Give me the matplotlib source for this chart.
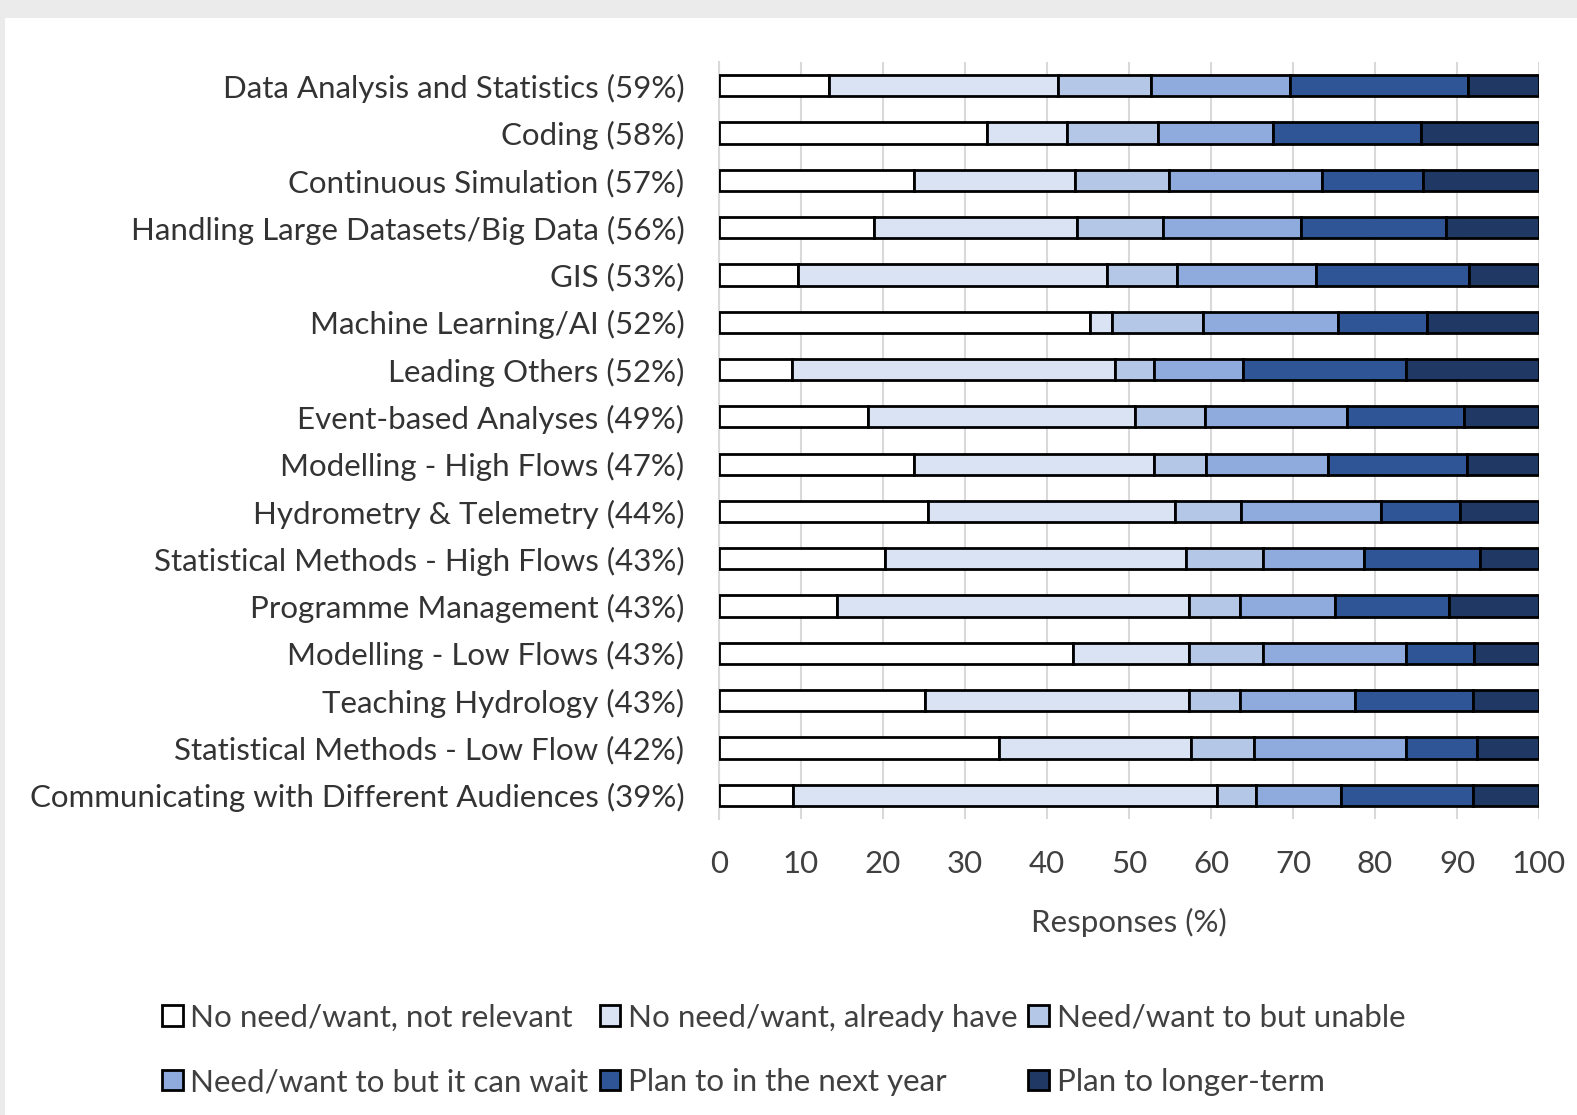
import matplotlib.pyplot as plt
from matplotlib.patches import Rectangle
import numpy as np

# Skills survey - stacked horizontal bars (%)

skills = [
    "Data Analysis and Statistics (59%)",
    "Coding (58%)",
    "Continuous Simulation (57%)",
    "Handling Large Datasets/Big Data (56%)",
    "GIS (53%)",
    "Machine Learning/AI (52%)",
    "Leading Others (52%)",
    "Event-based Analyses (49%)",
    "Modelling - High Flows (47%)",
    "Hydrometry & Telemetry (44%)",
    "Statistical Methods - High Flows (43%)",
    "Programme Management (43%)",
    "Modelling - Low Flows (43%)",
    "Teaching Hydrology (43%)",
    "Statistical Methods - Low Flow (42%)",
    "Communicating with Different Audiences (39%)",
]

no_need_not_relevant = [13.4, 32.7, 23.8, 18.9, 9.6, 45.2, 8.9, 18.2, 23.8, 25.5, 20.3, 14.4, 43.2, 25.1, 34.1, 9.0]
no_need_already_have = [27.9, 9.7, 19.6, 24.8, 37.7, 2.7, 39.4, 32.5, 29.3, 30.1, 36.6, 42.9, 14.1, 32.2, 23.5, 51.7]
need_but_unable = [11.4, 11.1, 11.5, 10.4, 8.6, 11.1, 4.8, 8.6, 6.3, 8.0, 9.4, 6.2, 9.0, 6.2, 7.6, 4.8]
need_can_wait = [16.9, 14.1, 18.6, 16.9, 16.9, 16.5, 10.8, 17.3, 14.9, 17.1, 12.4, 11.6, 17.5, 14.1, 18.6, 10.4]
plan_next_year = [21.8, 18.0, 12.4, 17.7, 18.7, 10.8, 19.9, 14.2, 16.9, 9.7, 14.1, 13.9, 8.3, 14.3, 8.6, 16.0]
plan_longer_term = [8.6, 14.4, 14.1, 11.3, 8.5, 13.7, 16.2, 9.2, 8.8, 9.6, 7.2, 11.0, 7.9, 8.1, 7.6, 8.1]

series_names = [
    "No need/want, not relevant",
    "No need/want, already have",
    "Need/want to but unable",
    "Need/want to but it can wait",
    "Plan to in the next year",
    "Plan to longer-term",
]
colours = ["#FFFFFF", "#DAE3F3", "#B4C7E7", "#8FAADC", "#2F5597", "#203864"]

series = [no_need_not_relevant, no_need_already_have, need_but_unable,
          need_can_wait, plan_next_year, plan_longer_term]

plt.rcParams['font.family'] = ['Lato', 'DejaVu Sans']

fig = plt.figure(figsize=(15.77, 11.15), dpi=100, facecolor="#EBEBEB")
# white panel inside the grey frame
fig.patches.append(Rectangle((5 / 1577, 0), 1, 1 - 18 / 1115, transform=fig.transFigure,
                             facecolor="white", edgecolor="none", zorder=-5))

ax = fig.add_axes([719 / 1577, 1 - 819 / 1115, 820 / 1577, 757 / 1115])
ax.set_facecolor("none")

y = np.arange(len(skills))
left = np.zeros(len(skills))
handles = []
for vals, name, col in zip(series, series_names, colours):
    vals = np.array(vals)
    h = ax.barh(y, vals, left=left, height=0.45, color=col, edgecolor="black",
                linewidth=2, label=name, zorder=3)
    handles.append(h)
    left += vals

ax.set_ylim(len(skills) - 0.5, -0.5)
ax.set_xlim(0, 100)
ax.set_xticks(np.arange(0, 101, 10))
ax.set_yticks(y)
ax.set_yticklabels(skills, fontsize=22.5, color="#333333")
ax.tick_params(axis="y", length=0, pad=25)
ax.tick_params(axis="x", length=0, pad=22, labelsize=22.5, labelcolor="#404040")
ax.grid(axis="x", color="#D9D9D9", linewidth=1.5, zorder=0)
for s in ["top", "right", "bottom"]:
    ax.spines[s].set_visible(False)
ax.spines["left"].set_color("#D9D9D9")
ax.spines["left"].set_linewidth(1.5)
ax.set_xlabel("Responses (%)", fontsize=22.5, color="#404040", labelpad=22)

# legend fills row by row in the original
order = [0, 3, 1, 4, 2, 5]
fig.legend([handles[i] for i in order], [series_names[i] for i in order],
           ncol=3, loc="center left", bbox_to_anchor=(134 / 1577, 1 - 1050 / 1115),
           frameon=False, fontsize=22.6, labelcolor="#404040",
           handlelength=0.65, handleheight=0.65, handletextpad=0.25,
           columnspacing=0.35, labelspacing=1.15)

fig.savefig("out.png", dpi=100, facecolor=fig.get_facecolor())
